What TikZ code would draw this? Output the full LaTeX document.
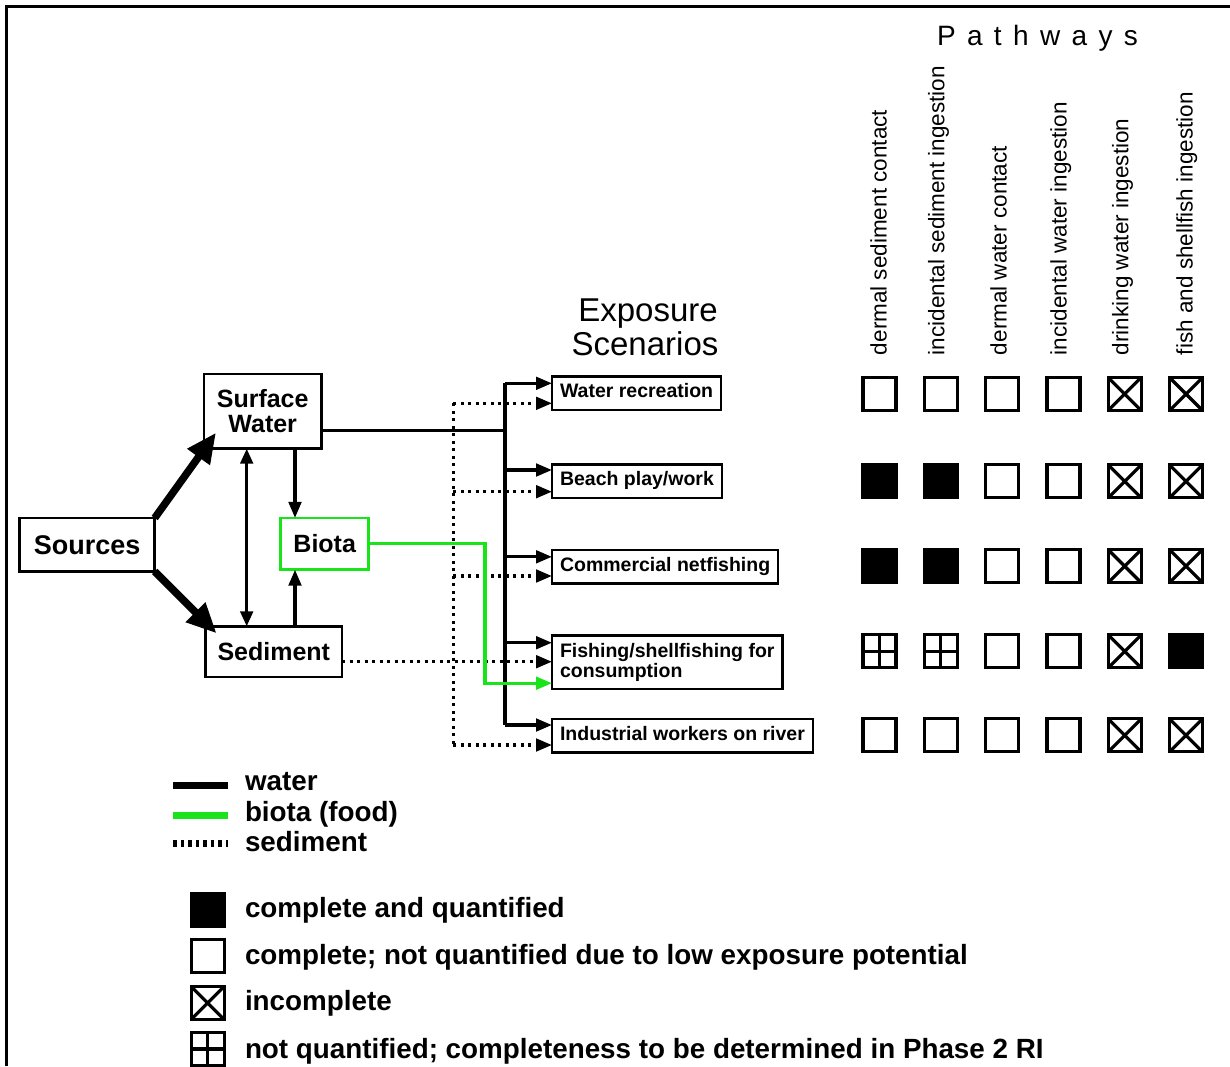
\documentclass[tikz,border=0pt]{standalone}
\usepackage{fontspec}
\setmainfont{Liberation Sans}
\usetikzlibrary{arrows.meta,calc}
\definecolor{biogreen}{RGB}{25,228,25}
\begin{document}
\begin{tikzpicture}[x=1pt,y=-1pt,
  every node/.style={inner sep=0pt,outer sep=0pt},
  mainbox/.style={draw,line width=2.8pt,align=center,font=\bfseries\fontsize{25pt}{25.3pt}\selectfont},
  scen/.style={draw,line width=2.5pt,anchor=west,align=left,inner xsep=8pt,inner ysep=7.5pt,font=\bfseries\fontsize{19.5pt}{20pt}\selectfont},
  scenone/.style={scen,text height=14pt,text depth=4.5pt},
  tip/.style={-{Triangle[length=16pt,width=12.5pt]}},
  wline/.style={line width=3.3pt},
  sedl/.style={line width=3.3pt,dash pattern=on 3pt off 4.5pt},
  bio/.style={line width=3.3pt,draw=biogreen},
  big/.style={line width=7.5pt,-{Triangle[length=30pt,width=26pt]}},
  cell/.style={draw,line width=3.2pt,minimum size=33pt,inner sep=0pt},
  cF/.style={cell,fill=black},
  cO/.style={cell},
  cX/.style={cell,path picture={\draw[line width=3.2pt] (path picture bounding box.north west) -- (path picture bounding box.south east) (path picture bounding box.north east) -- (path picture bounding box.south west);}},
  cP/.style={cell,path picture={\draw[line width=3.2pt] (path picture bounding box.north) -- (path picture bounding box.south) (path picture bounding box.east) -- (path picture bounding box.west);}},
  pathlab/.style={rotate=90,anchor=base west,font=\fontsize{22.5pt}{23pt}\selectfont},
  legtext/.style={anchor=base west,font=\bfseries\fontsize{27.8pt}{28pt}\selectfont},
  title/.style={anchor=base,font=\fontsize{33pt}{33pt}\selectfont}
]
\useasboundingbox (0,0) rectangle (1230,1066);
\fill[white] (0,0) rectangle (1230,1066);
\draw[line width=3.5pt] (6.5,1066) -- (6.5,6.5) -- (1230,6.5);

% main boxes
\node[mainbox,font=\bfseries\fontsize{27pt}{27pt}\selectfont,minimum width=135pt,minimum height=53.4pt] (src) at (87.2,544.7) {Sources};
\node[mainbox,minimum width=117.4pt,minimum height=74.7pt] (sw) at (262.7,411.3) {Surface\\Water};
\node[mainbox,draw=biogreen,minimum width=88pt,minimum height=51.7pt] (biota) at (324.7,543.8) {Biota};
\node[mainbox,minimum width=136.4pt,minimum height=50.7pt] (sed) at (273.8,651.7) {Sediment};

% scenarios
\node[title] (t1) at (648,321.7) {Exposure};
\node[title] (t2) at (645,355) {Scenarios};
\node[scenone] (s1) at (552,393) {Water recreation};
\node[scenone] (s2) at (552,481) {Beach play/work};
\node[scenone] (s3) at (552,566.8) {Commercial netfishing};
\node[scen] (s4) at (552,662.2) {Fishing/shellfishing for\\consumption};
\node[scenone] (s5) at (552,735.8) {Industrial workers on river};

% helper coordinates
\coordinate (trx) at (505,0);
\coordinate (dtx) at (453.3,0);
\coordinate (gx) at (485,0);
\coordinate (dax) at (246.7,0);
\coordinate (bx) at (295,0);
\coordinate (w1) at ([yshift=9.7pt]s1.west);
\coordinate (w2) at ([yshift=11pt]s2.west);
\coordinate (w3) at ([yshift=10pt]s3.west);
\coordinate (w4) at ([yshift=19.5pt]s4.west);
\coordinate (w5) at ([yshift=10.8pt]s5.west);
\coordinate (d1) at ([yshift=-10.3pt]s1.west);
\coordinate (d2) at ([yshift=-10.7pt]s2.west);
\coordinate (d3) at ([yshift=-9.2pt]s3.west);
\coordinate (d5) at ([yshift=-9.2pt]s5.west);
\coordinate (g4) at ([yshift=-21pt]s4.west);
\coordinate (swo) at ([yshift=-19.4pt]sw.east);
\coordinate (sedo) at ([yshift=-10pt]sed.east);

% source arrows
\draw[big] (src.north east) -- ($(sw.south west)+(12,-16)$);
\draw[big] (src.south east) -- ($(sed.north west)+(11,7)$);
\draw[wline,{Triangle[length=15pt,width=12.5pt]}-{Triangle[length=15pt,width=12.5pt]}] (dax |- sw.south) -- (dax |- sed.north);
\draw[wline,tip] (bx |- sw.south) -- (bx |- biota.north);
\draw[wline,tip] (bx |- sed.north) -- (bx |- biota.south);

% water (solid)
\draw[wline] (swo) -- (swo -| trx);
\draw[wline] (trx |- w1) -- (trx |- w5);
\draw[wline,tip] (trx |- w1) -- (w1);
\draw[wline,tip] (trx |- w2) -- (w2);
\draw[wline,tip] (trx |- w3) -- (w3);
\draw[wline,tip] (trx |- w4) -- (w4);
\draw[wline,tip] (trx |- w5) -- (w5);

% sediment (dotted)
\draw[sedl] (dtx |- d1) -- (dtx |- d5);
\draw[sedl,tip] (dtx |- d1) -- (d1);
\draw[sedl,tip] (dtx |- d2) -- (d2);
\draw[sedl,tip] (dtx |- d3) -- (d3);
\draw[sedl,tip] (dtx |- d5) -- (d5);
\draw[sedl,tip] (sedo) -- (sedo -| s4.west);

% biota (green)
\draw[bio,tip] (biota.east) -- (gx |- biota.east) -- (gx |- g4) -- (g4);

% pathways
\node[anchor=base west,font=\fontsize{28pt}{28pt}\selectfont\addfontfeature{LetterSpace=40.6}] (pw) at (937,45) {Pathways};
\node[pathlab] (p1) at (886.7,355) {dermal sediment contact};
\node[pathlab] (p2) at (944.3,355) {incidental sediment ingestion};
\node[pathlab] (p3) at (1006.7,355) {dermal water contact};
\node[pathlab] (p4) at (1066.7,355) {incidental water ingestion};
\node[pathlab] (p5) at (1128.3,355) {drinking water ingestion};
\node[pathlab] (p6) at (1192.7,355) {fish and shellfish ingestion};

% matrix
\node[cO] (c11) at (879.5,394) {};
\node[cO] (c12) at (940.8,394) {};
\node[cO] (c13) at (1002.1,394) {};
\node[cO] (c14) at (1063.4,394) {};
\node[cX] (c15) at (1124.7,394) {};
\node[cX] (c16) at (1186,394) {};
\node[cF] (c21) at (879.5,481.3) {};
\node[cF] (c22) at (940.8,481.3) {};
\node[cO] (c23) at (1002.1,481.3) {};
\node[cO] (c24) at (1063.4,481.3) {};
\node[cX] (c25) at (1124.7,481.3) {};
\node[cX] (c26) at (1186,481.3) {};
\node[cF] (c31) at (879.5,566.2) {};
\node[cF] (c32) at (940.8,566.2) {};
\node[cO] (c33) at (1002.1,566.2) {};
\node[cO] (c34) at (1063.4,566.2) {};
\node[cX] (c35) at (1124.7,566.2) {};
\node[cX] (c36) at (1186,566.2) {};
\node[cP] (c41) at (879.5,651.3) {};
\node[cP] (c42) at (940.8,651.3) {};
\node[cO] (c43) at (1002.1,651.3) {};
\node[cO] (c44) at (1063.4,651.3) {};
\node[cX] (c45) at (1124.7,651.3) {};
\node[cF] (c46) at (1186,651.3) {};
\node[cO] (c51) at (879.5,735.3) {};
\node[cO] (c52) at (940.8,735.3) {};
\node[cO] (c53) at (1002.1,735.3) {};
\node[cO] (c54) at (1063.4,735.3) {};
\node[cX] (c55) at (1124.7,735.3) {};
\node[cX] (c56) at (1186,735.3) {};

% legend
\draw[line width=7pt] (173.3,785) -- (228.3,785);
\draw[line width=7pt,biogreen] (173.3,815) -- (228.3,815);
\draw[line width=7pt,dash pattern=on 3.5pt off 4pt] (173.3,843.3) -- (228.3,843.3);
\node[legtext] (l1) at (245,790.7) {water};
\node[legtext] (l2) at (245,821.7) {biota (food)};
\node[legtext] (l3) at (245,851.7) {sediment};
\node[cF] (k1) at (207.7,910) {};
\node[cO] (k2) at (207.7,956) {};
\node[cX] (k3) at (207.7,1003) {};
\node[cP] (k4) at (207.7,1049) {};
\node[legtext] (l4) at (245,917.7) {complete and quantified};
\node[legtext] (l5) at (245,964) {complete; not quantified due to low exposure potential};
\node[legtext] (l6) at (245,1010.7) {incomplete};
\node[legtext] (l7) at (245,1058.3) {not quantified; completeness to be determined in Phase 2 RI};
\end{tikzpicture}
\end{document}
